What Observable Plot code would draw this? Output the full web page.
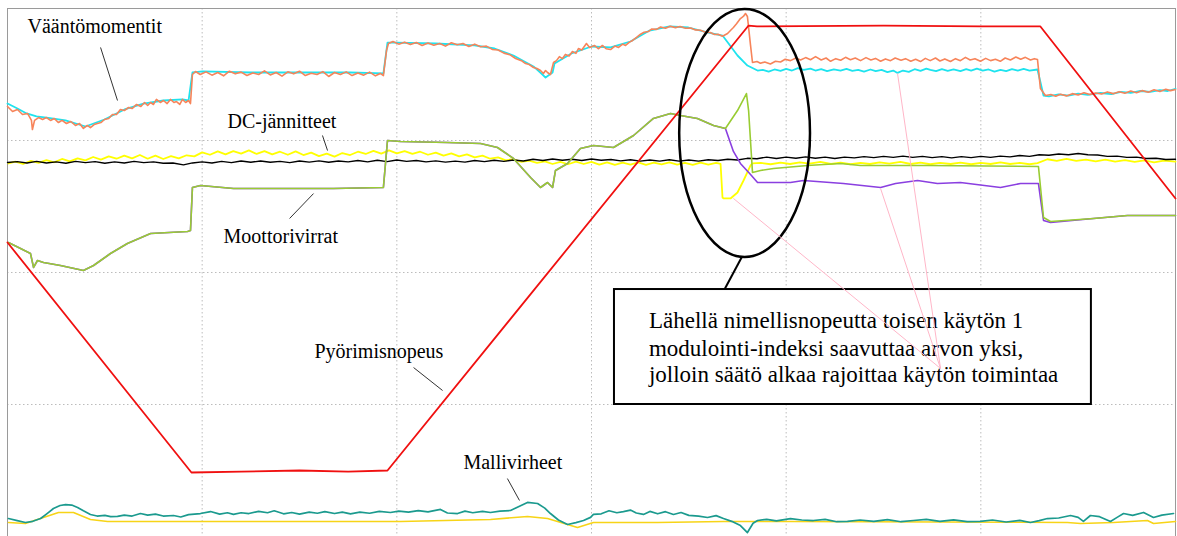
<!DOCTYPE html>
<html><head><meta charset="utf-8">
<script src="https://cdn.jsdelivr.net/npm/d3@7"></script>
<script src="https://cdn.jsdelivr.net/npm/@observablehq/plot@0.6"></script>
<style>
html,body{margin:0;padding:0;background:#fff;}
svg{display:block;}
</style></head><body><div id="chart"></div>
<script>
// time in s (10 s/div), value in div*10 (0..40)
const gridX = [10, 20, 30, 40, 50];
const gridY = [10, 20, 30];

const speed = [[0,22.27],[9.45,4.85],[12.0,4.92],[15.0,5.0],[17.5,4.92],[19.52,5.0],[38.07,38.71],[38.5,38.64],[45,38.71],[50,38.64],[53.06,38.64],[60,25.61]];

const torque1 = [[0,32.58],[0.26,32.20],[0.51,32.35],[0.77,31.97],[1.03,32.05],[1.23,31.52],[1.28,30.83],[1.39,31.52],[1.6,31.74],[1.80,31.59],[2.0,31.74],[2.21,31.52],[2.4,31.67],[2.62,31.36],[2.8,31.52],[3.03,31.29],[3.25,31.44],[3.49,31.14],[3.7,31.29],[3.90,30.91],[4.1,31.14],[4.26,30.98],[4.45,31.21],[4.62,31.29],[4.8,31.36],[4.98,31.59],[5.2,31.67],[5.39,31.97],[5.6,31.97],[5.80,32.35],[6.0,32.27],[6.22,32.50],[6.4,32.42],[6.63,32.73],[6.85,32.58],[7.04,32.88],[7.2,32.65],[7.35,32.88],[7.5,32.73],[7.65,33.11],[7.85,32.88],[8.01,33.03],[8.2,32.80],[8.37,33.11],[8.55,32.88],[8.68,32.95],[8.85,32.73],[8.99,33.11],[9.15,32.88],[9.30,33.03],[9.40,32.80],
[9.50,35.00],[9.66,35.23],[9.9,35.00],[10.2,35.20],[10.5,34.95],[10.8,35.15],[11.1,34.90],[11.4,35.25],[11.7,35.05],[12.0,35.18],[12.3,34.92],[12.6,35.12],[12.9,35.00],[13.2,35.28],[13.5,34.97],[13.8,35.15],[14.1,34.88],[14.4,35.20],[14.7,35.05],[15.0,35.25],[15.3,34.92],[15.6,35.10],[15.9,35.00],[16.2,35.22],[16.5,34.85],[16.8,35.15],[17.1,35.00],[17.4,35.20],[17.7,34.92],[18.0,35.12],[18.3,34.95],[18.6,35.18],[18.9,34.90],[19.15,35.08],[19.31,34.92],
[19.47,36.82],[19.57,37.35],[19.8,37.50],[20.1,37.30],[20.4,37.45],[20.7,37.27],[21.0,37.42],[21.3,37.20],[21.6,37.38],[21.9,37.22],[22.2,37.35],[22.5,37.15],[22.8,37.40],[23.1,37.25],[23.4,37.35],[23.7,37.12],[24.0,37.30],[24.3,37.10],[24.6,37.15],[24.9,36.90],[25.2,36.85],[25.5,36.62],[25.8,36.50],[26.1,36.21],[26.4,36.05],[26.61,35.83],[26.8,35.75],[27.02,35.53],[27.2,35.45],[27.38,35.30],[27.53,35.08],[27.64,35.30],[27.74,35.15],[27.89,35.00],[28.05,35.91],[28.2,36.05],[28.35,36.35],[28.5,36.20],[28.66,36.52],[28.85,36.40],[29.02,36.74],[29.2,36.60],[29.33,36.97],[29.5,36.85],[29.74,37.35],[29.9,37.05],[30.15,37.20],[30.35,36.95],[30.56,37.20],[30.75,36.95],[30.98,36.89],[31.2,37.15],[31.39,37.05],[31.6,37.30],[31.75,37.20],[31.95,37.45],[32.11,37.58],[32.3,37.80],[32.52,38.05],[32.7,38.20],[32.93,38.26],[33.1,38.45],[33.34,38.42],[33.55,38.60],[33.80,38.50],[34.05,38.66],[34.31,38.55],[34.55,38.64],[34.83,38.50],[35.1,38.52],[35.34,38.38],[35.6,38.35],[35.86,38.20],[36.1,38.18],[36.32,38.03],[36.5,38.05],[36.73,37.90],[36.99,38.11],[37.15,38.35],[37.29,38.56],[37.45,38.85],[37.65,39.24],[37.8,39.40],[37.91,39.62],[38.01,39.39],[38.17,37.20],[38.27,35.91],
[38.5,35.98],[38.68,35.85],[38.9,35.95],[39.19,35.80],[39.45,36.00],[39.71,35.95],[39.95,36.15],[40.22,36.05],[40.5,36.25],[40.74,36.10],[41.0,36.28],[41.25,36.12],[41.51,36.35],[41.8,36.10],[42.05,36.25],[42.28,36.00],[42.55,36.20],[42.8,36.08],[43.05,36.30],[43.3,36.12],[43.55,36.25],[43.82,36.05],[44.1,36.28],[44.35,36.10],[44.59,36.22],[44.85,36.00],[45.1,36.18],[45.36,36.05],[45.6,36.25],[45.9,36.08],[46.13,36.20],[46.4,36.00],[46.65,36.15],[46.90,35.98],[47.15,36.22],[47.4,36.05],[47.67,36.25],[47.9,36.02],[48.15,36.18],[48.44,35.98],[48.7,36.20],[48.95,36.05],[49.21,36.30],[49.45,36.10],[49.7,36.20],[49.98,36.00],[50.25,36.22],[50.5,36.05],[50.75,36.15],[51.0,36.00],[51.25,36.25],[51.52,36.10],[51.8,36.32],[52.05,36.15],[52.29,36.30],[52.55,36.10],[52.75,36.20],[52.91,36.14],
[53.06,33.94],[53.32,33.41],[53.6,33.48],[53.85,33.35],[54.09,33.50],[54.4,33.38],[54.7,33.55],[55.0,33.45],[55.3,33.62],[55.6,33.48],[55.9,33.60],[56.2,33.52],[56.5,33.68],[56.8,33.55],[57.1,33.70],[57.4,33.58],[57.7,33.75],[58.0,33.62],[58.3,33.78],[58.6,33.66],[58.9,33.85],[59.2,33.72],[59.5,33.88],[59.75,33.78],[60.00,33.86]];

const torque2 = [[0,32.80],[0.51,32.42],[0.98,32.05],[1.49,31.82],[2.00,31.74],[2.98,31.52],[4.01,31.06],[4.98,31.59],[6.01,32.35],[6.99,32.80],[8.01,33.03],[8.99,33.11],[9.30,33.03],[9.50,35.15],[10.02,35.23],[12.48,35.15],[15.05,35.15],[17.62,35.15],[19.31,35.08],[19.52,37.42],[19.98,37.42],[21.99,37.35],[23.99,37.20],[25.02,36.97],[25.99,36.44],[27.02,35.61],[27.48,35.00],[27.64,34.77],[28.00,35.15],[28.10,35.83],[28.97,36.59],[30.00,37.12],[30.98,37.05],[32.00,37.50],[32.98,38.33],[34.01,38.64],[34.98,38.56],[36.01,38.18],[36.73,37.95],[37.04,37.35],[37.50,36.44],[38.01,35.68],
[38.53,35.30],[38.8,35.35],[39.1,35.22],[39.4,35.38],[39.71,35.28],[40.0,35.42],[40.3,35.30],[40.6,35.48],[40.9,35.35],[41.25,35.45],[41.5,35.30],[41.8,35.40],[42.1,35.25],[42.45,35.38],[42.79,35.30],[43.1,35.42],[43.4,35.28],[43.7,35.35],[44.0,35.22],[44.33,35.38],[44.6,35.25],[44.9,35.35],[45.2,35.18],[45.5,35.30],[45.72,35.12],[46.0,35.30],[46.3,35.20],[46.6,35.40],[46.9,35.28],[47.2,35.45],[47.41,35.35],[47.7,35.25],[48.0,35.40],[48.3,35.28],[48.6,35.38],[48.95,35.25],[49.25,35.40],[49.5,35.30],[49.8,35.45],[50.1,35.30],[50.4,35.38],[50.7,35.22],[51.01,35.35],[51.3,35.25],[51.6,35.40],[51.9,35.30],[52.2,35.42],[52.5,35.30],[52.91,35.38],
[53.22,33.41],[53.5,33.35],[53.99,33.50],[54.5,33.40],[55.0,33.55],[55.5,33.45],[56.15,33.60],[56.7,33.52],[57.2,33.68],[57.7,33.60],[58.20,33.75],[58.7,33.68],[59.2,33.82],[59.6,33.75],[60.00,33.92]];

const dcBlack = [[0,28.33],[0.5,28.40],[1.0,28.30],[1.5,28.42],[2.0,28.30],[2.5,28.38],[3.0,28.28],[3.5,28.42],[4.0,28.32],[4.5,28.40],[5.0,28.28],[5.5,28.38],[6.0,28.30],[6.5,28.42],[7.0,28.32],[7.5,28.38],[8.0,28.28],[8.5,28.30],[9.04,28.15],[9.5,28.30],[10.0,28.38],[10.5,28.30],[11.0,28.42],[11.5,28.32],[12.0,28.45],[12.5,28.35],[13.0,28.45],[13.5,28.35],[14.0,28.42],[14.5,28.32],[15.0,28.45],[15.5,28.36],[16.0,28.46],[16.5,28.35],[17.0,28.45],[17.5,28.38],[18.0,28.48],[18.5,28.38],[19.0,28.50],[19.5,28.40],[20.0,28.52],[20.5,28.42],[21.0,28.48],[21.5,28.38],[22.0,28.46],[22.5,28.36],[23.0,28.44],[23.5,28.36],[24.0,28.48],[24.5,28.40],[25.0,28.50],[25.5,28.42],[26.0,28.52],[26.5,28.45],[27.0,28.58],[27.5,28.48],[28.0,28.60],[28.5,28.50],[29.0,28.58],[29.5,28.48],[30.0,28.60],[30.5,28.50],[31.0,28.56],[31.5,28.46],[32.0,28.54],[32.5,28.44],[33.0,28.52],[33.5,28.44],[34.0,28.54],[34.5,28.44],[35.0,28.52],[35.5,28.44],[36.0,28.54],[36.5,28.48],[37.0,28.58],[37.5,28.52],[38.0,28.65],[38.5,28.62],[39.0,28.74],[39.5,28.64],[40.0,28.74],[40.5,28.66],[41.0,28.76],[41.5,28.66],[42.0,28.74],[42.5,28.64],[43.0,28.74],[43.5,28.68],[44.0,28.78],[44.5,28.70],[45.0,28.80],[45.5,28.72],[46.0,28.82],[46.5,28.72],[47.0,28.80],[47.5,28.70],[48.0,28.78],[48.5,28.68],[49.0,28.78],[49.5,28.70],[50.0,28.80],[50.5,28.72],[51.0,28.82],[51.5,28.76],[52.0,28.86],[52.5,28.80],[53.0,28.92],[53.5,28.88],[54.0,28.98],[54.5,28.92],[55.0,29.02],[55.5,28.92],[56.0,28.90],[56.5,28.80],[57.0,28.82],[57.5,28.72],[58.0,28.74],[58.5,28.64],[59.0,28.66],[59.5,28.56],[60.0,28.58]];

const dcYellow = [[0.05,28.26],[0.4,28.40],[0.8,28.22],[1.2,28.45],[1.6,28.30],[2.0,28.52],[2.4,28.35],[2.8,28.60],[3.2,28.42],[3.6,28.65],[4.0,28.50],[4.4,28.75],[4.8,28.55],[5.2,28.80],[5.6,28.62],[6.0,28.85],[6.4,28.65],[6.8,28.90],[7.2,28.62],[7.6,28.85],[8.0,28.60],[8.4,28.82],[8.8,28.65],[9.2,28.88],[9.6,28.80],[10.0,29.10],[10.4,28.92],[10.8,29.18],[11.2,28.95],[11.6,29.20],[12.0,29.00],[12.4,29.25],[12.8,28.98],[13.2,29.20],[13.6,28.95],[14.0,29.15],[14.4,28.92],[14.8,29.18],[15.2,28.90],[15.6,29.08],[16.0,28.82],[16.4,29.00],[16.8,28.78],[17.2,29.05],[17.6,28.90],[18.0,29.15],[18.4,28.98],[18.8,29.22],[19.2,29.00],[19.6,29.25],[20.0,29.02],[20.4,29.20],[20.8,28.98],[21.2,29.15],[21.6,28.92],[22.0,29.08],[22.4,28.85],[22.8,29.02],[23.2,28.80],[23.6,28.95],[24.0,28.72],[24.4,28.85],[24.8,28.62],[25.2,28.72],[25.6,28.50],[26.0,28.58],[26.4,28.38],[26.8,28.48],[27.2,28.30],[27.6,28.42],[28.0,28.22],[28.4,28.38],[28.8,28.20],[29.2,28.40],[29.6,28.22],[30.0,28.38],[30.4,28.18],[30.8,28.35],[31.2,28.15],[31.6,28.32],[32.0,28.18],[32.4,28.35],[32.8,28.15],[33.2,28.32],[33.6,28.20],[34.0,28.35],[34.4,28.18],[34.8,28.30],[35.2,28.15],[35.6,28.32],[36.0,28.18],[36.4,28.30],[36.63,28.22],
[36.73,25.68],[36.78,25.61],[37.14,25.61],[37.50,26.06],[37.81,26.97],[38.17,28.11],[38.27,28.26],
[38.7,28.30],[39.2,28.20],[39.71,28.32],[40.2,28.22],[40.7,28.35],[41.2,28.25],[41.76,28.38],[42.3,28.22],[42.8,28.32],[43.3,28.20],[43.82,28.30],[44.3,28.22],[44.8,28.35],[45.3,28.25],[45.87,28.38],[46.4,28.22],[46.9,28.32],[47.4,28.20],[47.9,28.30],[48.45,28.22],[48.95,28.32],[49.5,28.20],[50.0,28.30],[50.5,28.22],[51.01,28.35],[51.5,28.22],[52.0,28.30],[52.5,28.20],[52.91,28.28],[53.42,28.58],[53.9,28.45],[54.4,28.60],[54.9,28.45],[55.4,28.55],[55.9,28.42],[56.4,28.55],[56.9,28.40],[57.4,28.52],[57.9,28.38],[58.4,28.50],[58.9,28.35],[59.4,28.48],[60.0,28.40]];

const currentShared = [[0.05,22.27],[0.67,21.82],[1.18,21.44],[1.34,20.38],[1.54,20.91],[1.85,20.76],[2.72,20.53],[3.90,20.15],[4.42,20.53],[5.29,21.44],[6.16,22.20],[7.35,22.95],[9.25,23.11],[9.40,23.18],[9.50,26.44],[9.91,26.59],[11.61,26.36],[13.36,26.36],[15.05,26.36],[16.75,26.36],[19.31,26.44],[19.52,30.00],[20.19,29.92],[22.60,29.85],[24.30,29.77],[25.17,29.47],[25.99,28.64],[26.87,27.20],[27.38,26.44],[27.74,26.82],[28.00,26.44],[28.15,27.73],[28.77,28.26],[29.43,29.39],[30.10,29.62],[31.13,29.47],[32.16,30.38],[33.18,31.67],[34.06,32.05],[34.57,31.89],[35.44,31.67],[36.27,31.14],[36.88,30.91]];
const currentGreenTail = [[37.50,32.27],[37.96,33.56],[38.07,32.27],[38.27,27.58],[38.68,27.73],[39.35,27.88],[41.10,28.11],[42.79,28.26],[43.82,28.11],[47.26,28.11],[52.96,28.03],[53.22,24.17],[53.58,23.86],[55.79,24.09],[57.53,24.32],[60.00,24.32]];
const currentPurpleTail = [[37.29,29.17],[37.65,28.26],[38.17,27.43],[38.53,26.82],[40.22,26.82],[40.89,26.97],[42.94,26.74],[44.85,26.44],[45.62,26.74],[46.75,26.97],[47.77,26.74],[48.95,26.82],[51.01,26.44],[52.04,26.74],[52.96,26.74],[53.22,23.94],[53.58,23.79],[55.79,24.09],[57.53,24.32],[60.00,24.32]];

const errTeal = [[0.05,1.36],[0.5,1.20],[0.92,1.06],[1.3,1.15],[1.70,1.36],[2.0,1.70],[2.36,2.12],[2.7,2.35],[2.98,2.42],[3.3,2.38],[3.60,2.20],[3.9,1.95],[4.26,1.67],[4.6,1.55],[5.0,1.60],[5.3,1.50],[5.65,1.52],[6.0,1.62],[6.4,1.55],[6.83,1.74],[7.2,1.62],[7.6,1.70],[8.0,1.55],[8.53,1.59],[8.9,1.48],[9.3,1.66],[9.91,1.74],[10.43,1.89],[10.9,1.70],[11.3,1.80],[11.61,1.68],[12.0,1.80],[12.4,1.74],[12.9,1.90],[13.36,1.80],[13.7,1.95],[14.18,1.72],[14.6,1.82],[15.0,1.70],[15.5,1.85],[15.92,1.76],[16.3,1.88],[16.8,1.74],[17.2,1.85],[17.62,1.72],[18.1,1.84],[18.6,1.76],[19.1,1.90],[19.67,1.82],[20.1,1.92],[20.6,1.84],[21.1,1.96],[21.6,1.86],[22.24,2.05],[22.6,1.78],[23.12,1.74],[23.5,1.92],[23.9,1.80],[24.4,1.90],[24.81,1.82],[25.3,1.92],[25.84,1.97],[26.3,2.30],[26.71,2.58],[27.23,2.50],[27.6,2.15],[27.89,1.74],[28.3,1.25],[28.77,0.91],[29.2,1.05],[29.59,1.21],[29.95,1.45],[30.10,1.67],[30.5,1.72],[30.9,1.95],[31.3,1.80],[31.64,1.89],[32.0,2.00],[32.3,1.78],[32.67,1.67],[33.0,1.90],[33.4,1.72],[33.8,1.88],[34.21,1.67],[34.6,1.82],[35.0,1.60],[35.5,1.55],[35.96,1.44],[36.4,1.58],[36.78,1.36],[37.2,1.15],[37.65,0.83],[38.01,0.30],[38.3,1.00],[38.53,1.21],[39.0,1.30],[39.5,1.18],[40.22,1.36],[40.8,1.25],[41.40,1.21],[42.0,1.30],[42.6,1.12],[43.15,1.14],[43.8,1.25],[44.5,1.15],[45.2,1.28],[45.9,1.12],[46.54,1.21],[47.2,1.30],[47.9,1.15],[48.6,1.26],[49.3,1.12],[49.98,1.14],[50.6,1.25],[51.3,1.10],[52.0,1.22],[52.55,1.06],[53.0,1.20],[53.42,1.36],[54.0,1.40],[54.61,1.59],[55.0,1.45],[55.27,1.14],[55.63,1.59],[56.1,1.50],[56.66,1.14],[57.0,1.45],[57.33,1.74],[57.8,1.60],[58.36,1.82],[58.87,1.44],[59.3,1.62],[59.90,1.74]];
const errGold = [[0.05,1.06],[0.92,0.98],[2.62,1.82],[3.39,1.82],[4.26,1.29],[5.14,1.14],[8.22,1.14],[13.36,1.14],[20.19,1.14],[24.81,1.29],[26.71,1.52],[27.74,1.36],[29.28,0.68],[30.10,1.06],[31.64,1.06],[33.39,1.06],[36.78,1.14],[40.22,1.14],[54.45,1.06],[55.12,0.98],[56.81,1.06],[58.56,1.21],[58.87,0.98],[60.00,1.14]];

const labels = ["Vääntömomentit", "DC-jännitteet", "Moottorivirrat", "Pyörimisnopeus", "Mallivirheet"];
const noteLines = ["Lähellä nimellisnopeutta toisen käytön 1", "modulointi-indeksi saavuttaa arvon yksi,", "jolloin säätö alkaa rajoittaa käytön toimintaa"];

// annotation anchors (data units)
const labelAnchors = [[1.03,38.11],[11.30,30.91],[11.10,22.27],[15.77,13.56],[23.42,5.15]];
const leaders = [[4.78,37.05,5.65,33.03],[16.18,30.38,16.44,29.24],[14.49,24.09,15.72,25.98],[20.86,12.80,22.35,11.06],[25.68,4.39,26.30,2.73]];
const pinkLinks = [[37.29,25.61],[44.85,26.36],[45.72,35.08]];
const noteTextY = [15.76, 13.71, 11.67];

const F = "'Liberation Serif','Times New Roman',serif";
const ln = (data, stroke, w) => Plot.line(data, {stroke, strokeWidth: w || 1.6, strokeLinejoin: "round"});

function ellipseMark(index, scales) {
  const ns = "http://www.w3.org/2000/svg";
  const cx = scales.x(37.89), cy = scales.y(30.53);
  const rx = scales.x(37.89 + 3.36) - cx, ry = cy - scales.y(30.53 + 9.39);
  const e = document.createElementNS(ns, "ellipse");
  e.setAttribute("cx", cx); e.setAttribute("cy", cy);
  e.setAttribute("rx", rx); e.setAttribute("ry", ry);
  e.setAttribute("fill", "none"); e.setAttribute("stroke", "black"); e.setAttribute("stroke-width", 2.5);
  return e;
}

const plot = Plot.plot({
  width: 1177, height: 536,
  marginLeft: 7, marginTop: 8, marginRight: 2, marginBottom: 0,
  x: {domain: [0, 60], axis: null},
  y: {domain: [0, 40], axis: null},
  style: {background: "#fff"},
  marks: [
    Plot.ruleX(gridX, {stroke: "#bcbcbc", strokeDasharray: "1.5,2.5"}),
    Plot.ruleY(gridY, {stroke: "#bcbcbc", strokeDasharray: "1.5,2.5"}),
    Plot.frame({stroke: "#9a9a9a"}),
    ln(errGold, "#f7d417", 1.6),
    ln(errTeal, "#1b9a8e", 1.7),
    ln(torque2, "#1ee3ee", 1.8),
    ln(torque1, "#f7845a", 1.6),
    ln(dcYellow, "#ffff00", 1.8),
    ln(dcBlack, "#000000", 1.4),
    ln(currentShared.concat(currentPurpleTail), "#8a3fe0", 1.6),
    ln(currentShared.concat(currentGreenTail), "#99cc33", 1.6),
    ln(speed, "#f01010", 1.8),
    Plot.link(leaders, {x1: d => d[0], y1: d => d[1], x2: d => d[2], y2: d => d[3], stroke: "#333", strokeWidth: 1}),
    Plot.text(labels, {x: (d, i) => labelAnchors[i][0], y: (d, i) => labelAnchors[i][1], text: d => d, textAnchor: "start", lineAnchor: "bottom", fontSize: 20, fontFamily: F, fill: "black"}),
    ellipseMark,
    Plot.link([[37.71, 21.14, 36.83, 18.71]], {x1: d => d[0], y1: d => d[1], x2: d => d[2], y2: d => d[3], stroke: "black", strokeWidth: 2}),
    Plot.rect([[31.18, 55.68, 10.0, 18.71]], {x1: d => d[0], x2: d => d[1], y1: d => d[2], y2: d => d[3], fill: "white", stroke: "black", strokeWidth: 2}),
    Plot.text(noteLines, {x: 32.95, y: (d, i) => noteTextY[i], text: d => d, textAnchor: "start", lineAnchor: "bottom", fontSize: 23, fontFamily: F, fill: "black"}),
    Plot.link(pinkLinks, {x1: 47.93, y1: 12.73, x2: d => d[0], y2: d => d[1], stroke: "#ffb6c8", strokeWidth: 1})
  ]
});
document.getElementById("chart").append(plot);
</script>
</body></html>
